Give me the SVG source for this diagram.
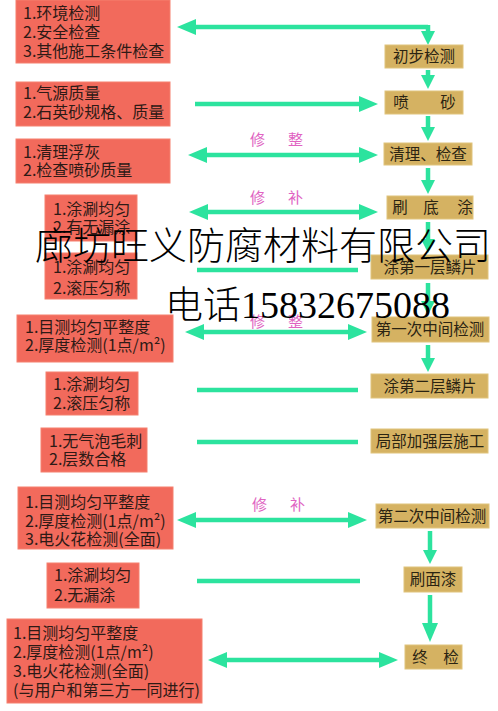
<svg xmlns="http://www.w3.org/2000/svg" width="498" height="711" viewBox="0 0 498 711">
<style>
.rb{fill:#f26a5c;stroke:#f5806f;stroke-width:1}
.rt{font-family:"Noto Sans CJK SC","Liberation Sans",sans-serif;font-size:16px;fill:#2e1a16}
.tb{fill:#d5b262;stroke:#e0c47c;stroke-width:1}
.tt{font-family:"Noto Sans CJK SC","Liberation Sans",sans-serif;font-size:15.5px;fill:#2b2412;text-anchor:middle}
.cn{fill:none;stroke:#2ce39e;stroke-width:4.5}
.lb{font-family:"Noto Sans CJK SC",sans-serif;font-size:15px;fill:#e063c2}
.wm{font-family:"Liberation Serif","Noto Sans CJK SC",serif;font-size:38px;font-weight:300;fill:#000}
</style>
<defs>
<marker id="ah" markerUnits="userSpaceOnUse" markerWidth="20" markerHeight="18" refX="1" refY="8" orient="auto-start-reverse"><path d="M0,0 L19,8 L0,16 Z" fill="#2ce39e"/></marker>
<marker id="av" markerUnits="userSpaceOnUse" markerWidth="15" markerHeight="15" refX="1" refY="7" orient="auto"><path d="M0,0 L14,7 L0,14 Z" fill="#2ce39e"/></marker>
</defs>
<rect width="498" height="711" fill="#fff"/>

<g id="connectors">
<path class="cn" d="M428,27 L195,27" marker-end="url(#ah)"/>
<path class="cn" d="M428,25 L428,32" marker-end="url(#av)"/>
<path class="cn" d="M195,104 L360,104" marker-end="url(#ah)"/>
<path class="cn" d="M206,155 L360,155" marker-start="url(#ah)" marker-end="url(#ah)"/>
<path class="cn" d="M207,212 L360,212" marker-start="url(#ah)" marker-end="url(#ah)"/>
<path class="cn" d="M197,270 L358,270"/>
<path class="cn" d="M203,332 L349,332" marker-start="url(#ah)" marker-end="url(#ah)"/>
<path class="cn" d="M197,390 L358,390"/>
<path class="cn" d="M197,442 L358,442"/>
<path class="cn" d="M195,520 L349,520" marker-start="url(#ah)" marker-end="url(#ah)"/>
<path class="cn" d="M197,581 L360,581"/>
<path class="cn" d="M226,660 L380,660" marker-start="url(#ah)" marker-end="url(#ah)"/>
<path class="cn" d="M428,70 L428,76" marker-end="url(#av)"/>
<path class="cn" d="M428,116 L428,128" marker-end="url(#av)"/>
<path class="cn" d="M428,168 L428,181" marker-end="url(#av)"/>
<path class="cn" d="M428,222 L428,240" marker-end="url(#av)"/>
<path class="cn" d="M428,283 L428,302" marker-end="url(#av)"/>
<path class="cn" d="M428,345 L428,359" marker-end="url(#av)"/>
<path class="cn" d="M430,531 L430,551" marker-end="url(#av)"/>
<path class="cn" d="M430,595 L430,624" marker-end="url(#ah)"/>
<text class="lb" x="250" y="145">修</text><text class="lb" x="288" y="145">整</text>
<text class="lb" x="250" y="203">修</text><text class="lb" x="288" y="203">补</text>
<text class="lb" x="250" y="327">修</text><text class="lb" x="288" y="327">整</text>
<text class="lb" x="252" y="510">修</text><text class="lb" x="290" y="510">补</text>
</g>

<g id="req1"><rect class="rb" x="16" y="0" width="154" height="63"/>
<text class="rt" x="23" y="19">1.环境检测</text><text class="rt" x="23" y="38">2.安全检查</text><text class="rt" x="23" y="57">3.其他施工条件检查</text></g>
<g id="req2"><rect class="rb" x="16" y="82" width="154" height="44"/>
<text class="rt" x="23" y="99">1.气源质量</text><text class="rt" x="23" y="118">2.石英砂规格、质量</text></g>
<g id="req3"><rect class="rb" x="16" y="139" width="154" height="44"/>
<text class="rt" x="23" y="158">1.清理浮灰</text><text class="rt" x="23" y="176">2.检查喷砂质量</text></g>
<g id="req4"><rect class="rb" x="45" y="195" width="92" height="46"/>
<text class="rt" x="53" y="215">1.涂涮均匀</text><text class="rt" x="53" y="233">2.有无漏涂</text></g>
<g id="req5"><rect class="rb" x="45" y="253" width="92" height="46"/>
<text class="rt" x="53" y="273">1.涂涮均匀</text><text class="rt" x="53" y="294">2.滚压匀称</text></g>
<g id="req6"><rect class="rb" x="17" y="315" width="156" height="47"/>
<text class="rt" x="25" y="333">1.目测均匀平整度</text><text class="rt" x="25" y="351">2.厚度检测(1点/m²)</text></g>
<g id="req7"><rect class="rb" x="46" y="372" width="92" height="43"/>
<text class="rt" x="53" y="390">1.涂涮均匀</text><text class="rt" x="53" y="409">2.滚压匀称</text></g>
<g id="req8"><rect class="rb" x="41" y="428" width="106" height="44"/>
<text class="rt" x="49" y="447">1.无气泡毛刺</text><text class="rt" x="49" y="465">2.层数合格</text></g>
<g id="req9"><rect class="rb" x="18" y="487" width="155" height="62"/>
<text class="rt" x="25" y="508">1.目测均匀平整度</text><text class="rt" x="25" y="527">2.厚度检测(1点/m²)</text><text class="rt" x="25" y="545">3.电火花检测(全面)</text></g>
<g id="req10"><rect class="rb" x="47" y="563" width="92" height="45"/>
<text class="rt" x="54" y="581">1.涂涮均匀</text><text class="rt" x="54" y="601">2.无漏涂</text></g>
<g id="req11"><rect class="rb" x="7" y="619" width="195" height="84"/>
<text class="rt" x="13" y="639">1.目测均匀平整度</text><text class="rt" x="13" y="658">2.厚度检测(1点/m²)</text><text class="rt" x="13" y="677">3.电火花检测(全面)</text><text class="rt" x="13" y="696">(与用户和第三方一同进行)</text></g>

<g id="step1"><rect class="tb" x="385" y="45" width="78" height="23"/><text class="tt" x="424" y="62">初步检测</text></g>
<g id="step2"><rect class="tb" x="385" y="91" width="78" height="23"/><text class="tt" x="401" y="108">喷</text><text class="tt" x="448" y="108">砂</text></g>
<g id="step3"><rect class="tb" x="384" y="143" width="88" height="22"/><text class="tt" x="428" y="160">清理、检查</text></g>
<g id="step4"><rect class="tb" x="387" y="196" width="86" height="23"/><text class="tt" x="400" y="213">刷</text><text class="tt" x="431" y="213">底</text><text class="tt" x="465" y="213">涂</text></g>
<g id="step5"><rect class="tb" x="371" y="255" width="117" height="24"/><text class="tt" x="430" y="273">涂第一层鳞片</text></g>
<g id="step6"><rect class="tb" x="372" y="317" width="117" height="25"/><text class="tt" x="430" y="335">第一次中间检测</text></g>
<g id="step7"><rect class="tb" x="371" y="374" width="117" height="24"/><text class="tt" x="430" y="392">涂第二层鳞片</text></g>
<g id="step8"><rect class="tb" x="371" y="429" width="117" height="24"/><text class="tt" x="430" y="447">局部加强层施工</text></g>
<g id="step9"><rect class="tb" x="376" y="504" width="113" height="24"/><text class="tt" x="432" y="522">第二次中间检测</text></g>
<g id="step10"><rect class="tb" x="404" y="567" width="58" height="25"/><text class="tt" x="433" y="585">刷面漆</text></g>
<g id="step11"><rect class="tb" x="405" y="645" width="57" height="24"/><text class="tt" x="420" y="663">终</text><text class="tt" x="451" y="663">检</text></g>

<g id="watermark">
<text class="wm" x="35" y="259">廊坊旺义防腐材料有限公司</text>
<text class="wm" x="165" y="318">电话15832675088</text>
</g>
</svg>
